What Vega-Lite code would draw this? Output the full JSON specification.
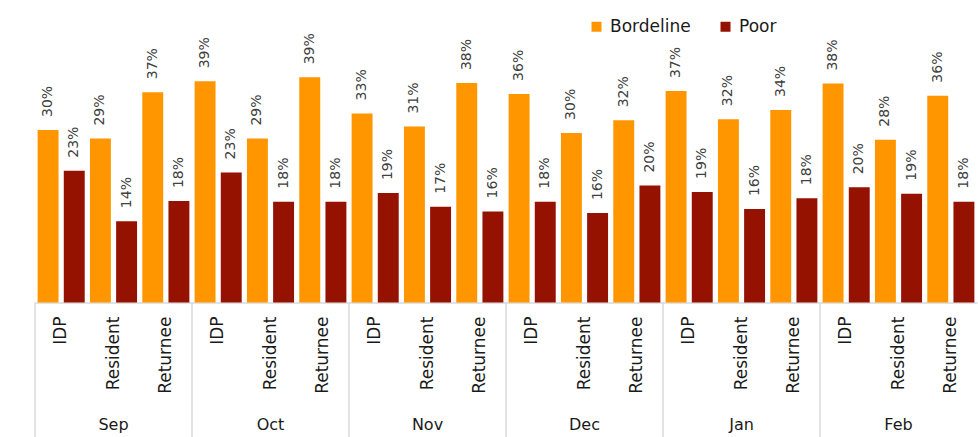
{
  "$schema": "https://vega.github.io/schema/vega-lite/v6.json",
  "autosize": {"type": "none"},
  "padding": {"left": 35, "top": 16, "right": 1, "bottom": 134.5},
  "width": 942,
  "height": 286.5,
  "config": {"font": "DejaVu Sans", "view": {"stroke": null}},
  "data": {"values": [
    {"month": "Sep", "group": "IDP", "series": "Bordeline", "value": 0.301},
    {"month": "Sep", "group": "IDP", "series": "Poor", "value": 0.230},
    {"month": "Sep", "group": "Resident", "series": "Bordeline", "value": 0.286},
    {"month": "Sep", "group": "Resident", "series": "Poor", "value": 0.142},
    {"month": "Sep", "group": "Returnee", "series": "Bordeline", "value": 0.367},
    {"month": "Sep", "group": "Returnee", "series": "Poor", "value": 0.177},
    {"month": "Oct", "group": "IDP", "series": "Bordeline", "value": 0.386},
    {"month": "Oct", "group": "IDP", "series": "Poor", "value": 0.227},
    {"month": "Oct", "group": "Resident", "series": "Bordeline", "value": 0.286},
    {"month": "Oct", "group": "Resident", "series": "Poor", "value": 0.176},
    {"month": "Oct", "group": "Returnee", "series": "Bordeline", "value": 0.393},
    {"month": "Oct", "group": "Returnee", "series": "Poor", "value": 0.176},
    {"month": "Nov", "group": "IDP", "series": "Bordeline", "value": 0.330},
    {"month": "Nov", "group": "IDP", "series": "Poor", "value": 0.191},
    {"month": "Nov", "group": "Resident", "series": "Bordeline", "value": 0.307},
    {"month": "Nov", "group": "Resident", "series": "Poor", "value": 0.167},
    {"month": "Nov", "group": "Returnee", "series": "Bordeline", "value": 0.383},
    {"month": "Nov", "group": "Returnee", "series": "Poor", "value": 0.159},
    {"month": "Dec", "group": "IDP", "series": "Bordeline", "value": 0.364},
    {"month": "Dec", "group": "IDP", "series": "Poor", "value": 0.176},
    {"month": "Dec", "group": "Resident", "series": "Bordeline", "value": 0.296},
    {"month": "Dec", "group": "Resident", "series": "Poor", "value": 0.156},
    {"month": "Dec", "group": "Returnee", "series": "Bordeline", "value": 0.318},
    {"month": "Dec", "group": "Returnee", "series": "Poor", "value": 0.204},
    {"month": "Jan", "group": "IDP", "series": "Bordeline", "value": 0.369},
    {"month": "Jan", "group": "IDP", "series": "Poor", "value": 0.193},
    {"month": "Jan", "group": "Resident", "series": "Bordeline", "value": 0.320},
    {"month": "Jan", "group": "Resident", "series": "Poor", "value": 0.163},
    {"month": "Jan", "group": "Returnee", "series": "Bordeline", "value": 0.336},
    {"month": "Jan", "group": "Returnee", "series": "Poor", "value": 0.182},
    {"month": "Feb", "group": "IDP", "series": "Bordeline", "value": 0.382},
    {"month": "Feb", "group": "IDP", "series": "Poor", "value": 0.201},
    {"month": "Feb", "group": "Resident", "series": "Bordeline", "value": 0.284},
    {"month": "Feb", "group": "Resident", "series": "Poor", "value": 0.190},
    {"month": "Feb", "group": "Returnee", "series": "Bordeline", "value": 0.361},
    {"month": "Feb", "group": "Returnee", "series": "Poor", "value": 0.176}
  ]},
  "transform": [{"calculate": "datum.month + '|' + datum.group", "as": "key"}],
  "encoding": {
    "x": {
      "field": "key", "type": "nominal", "sort": null,
      "scale": {"paddingInner": 0, "paddingOuter": 0},
      "axis": {"labels": false, "ticks": false, "title": null, "domainColor": "#d9d9d9", "domainWidth": 1.5, "grid": false}
    }
  },
  "layer": [
    {
      "mark": {"type": "bar"},
      "encoding": {
        "xOffset": {"field": "series", "type": "nominal", "sort": ["Bordeline", "Poor"], "scale": {"paddingInner": 0.2, "paddingOuter": 0.1}},
        "y": {"field": "value", "type": "quantitative", "scale": {"domain": [0, 0.5], "nice": false}, "axis": null},
        "color": {
          "field": "series", "type": "nominal",
          "scale": {"domain": ["Bordeline", "Poor"], "range": ["#FF9600", "#951100"]},
          "legend": {
            "orient": "none", "legendX": 553, "legendY": 2, "direction": "horizontal",
            "title": null, "symbolType": "square", "symbolSize": 100, "symbolStrokeWidth": 0,
            "labelFontSize": 17, "labelColor": "#1a1a1a", "columnPadding": 26, "padding": 0, "labelOffset": 5
          }
        }
      }
    },
    {
      "mark": {"type": "text", "angle": 270, "align": "left", "baseline": "middle", "dx": 13, "fontSize": 14, "color": "#404040"},
      "encoding": {
        "xOffset": {"field": "series", "type": "nominal", "sort": ["Bordeline", "Poor"], "scale": {"paddingInner": 0.2, "paddingOuter": 0.1}},
        "y": {"field": "value", "type": "quantitative"},
        "text": {"field": "value", "type": "quantitative", "format": ".0%"}
      }
    },
    {
      "transform": [{"filter": "datum.series == 'Bordeline'"}],
      "mark": {"type": "text", "angle": 270, "align": "right", "baseline": "middle", "dx": -14, "fontSize": 17, "color": "#1a1a1a"},
      "encoding": {
        "y": {"datum": 0},
        "text": {"field": "group", "type": "nominal"}
      }
    },
    {
      "transform": [{"filter": "datum.series == 'Bordeline' && datum.group == 'Resident'"}],
      "mark": {"type": "text", "baseline": "middle", "align": "center", "dy": 122, "fontSize": 16, "color": "#1a1a1a"},
      "encoding": {
        "y": {"datum": 0},
        "text": {"field": "month", "type": "nominal"}
      }
    },
    {
      "transform": [{"filter": "datum.series == 'Bordeline' && datum.group == 'IDP'"}],
      "mark": {"type": "rule", "color": "#d9d9d9", "strokeWidth": 1.5},
      "encoding": {
        "x": {"field": "key", "type": "nominal", "sort": null, "bandPosition": 0},
        "y": {"datum": 0},
        "y2": {"datum": -0.3}
      }
    }
  ]
}
